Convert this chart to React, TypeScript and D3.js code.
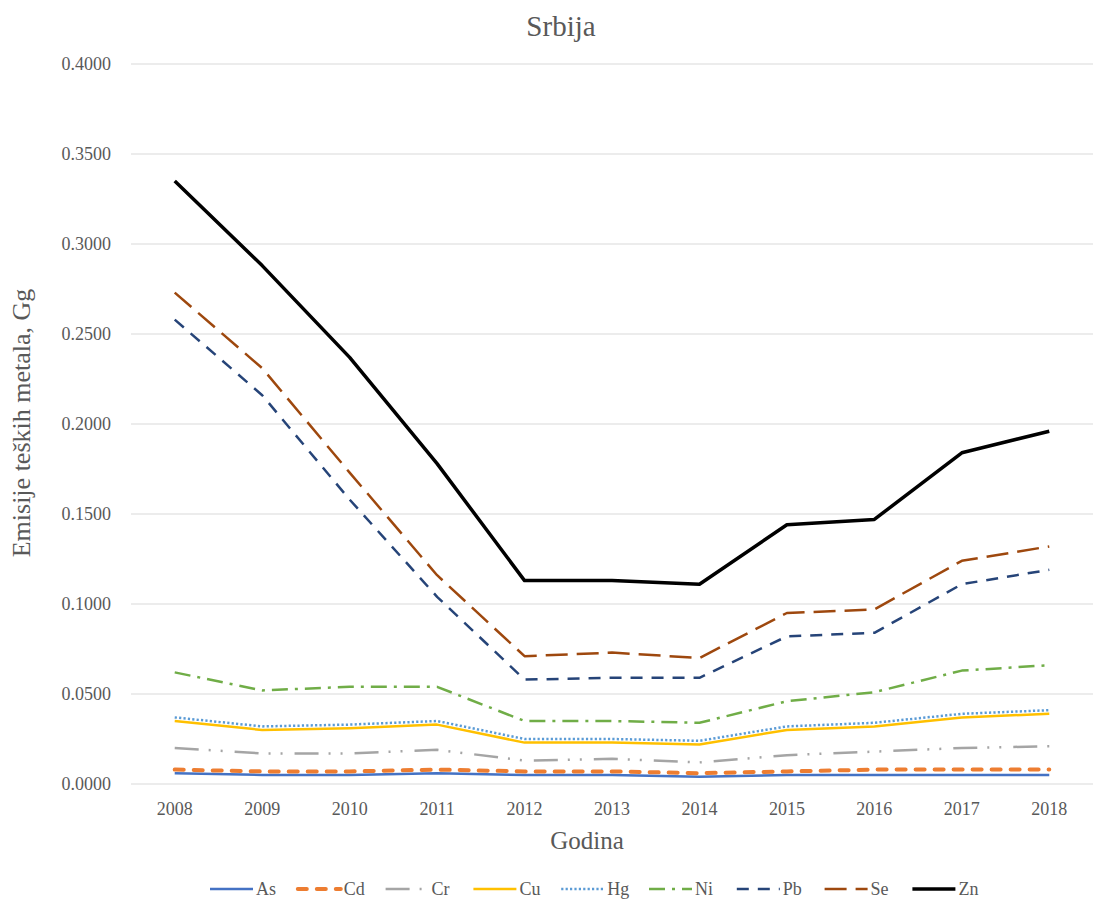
import * as d3 from "d3";

const WIDTH = 1093;
const HEIGHT = 902;
const MARGIN = { top: 64, right: 0, bottom: 118, left: 131 };

const years = ["2008", "2009", "2010", "2011", "2012", "2013", "2014", "2015", "2016", "2017", "2018"];
const yTicks = [0, 0.05, 0.1, 0.15, 0.2, 0.25, 0.3, 0.35, 0.4];

const asVals = [0.006, 0.005, 0.005, 0.006, 0.005, 0.005, 0.004, 0.005, 0.005, 0.005, 0.005];
const cdVals = [0.008, 0.007, 0.007, 0.008, 0.007, 0.007, 0.006, 0.007, 0.008, 0.008, 0.008];
const crVals = [0.02, 0.017, 0.017, 0.019, 0.013, 0.014, 0.012, 0.016, 0.018, 0.02, 0.021];
const cuVals = [0.035, 0.03, 0.031, 0.033, 0.023, 0.023, 0.022, 0.03, 0.032, 0.037, 0.039];
const hgVals = [0.037, 0.032, 0.033, 0.035, 0.025, 0.025, 0.024, 0.032, 0.034, 0.039, 0.041];
const niVals = [0.062, 0.052, 0.054, 0.054, 0.035, 0.035, 0.034, 0.046, 0.051, 0.063, 0.066];
const pbVals = [0.258, 0.216, 0.158, 0.104, 0.058, 0.059, 0.059, 0.082, 0.084, 0.111, 0.119];
const seVals = [0.273, 0.231, 0.173, 0.116, 0.071, 0.073, 0.07, 0.095, 0.097, 0.124, 0.132];
const znVals = [0.335, 0.288, 0.237, 0.178, 0.113, 0.113, 0.111, 0.144, 0.147, 0.184, 0.196];

const series = [
  { name: "As", values: asVals, color: "#4472C4", width: 2.5, dash: "", cap: "butt" },
  { name: "Cd", values: cdVals, color: "#ED7D31", width: 4, dash: "9 10", cap: "round" },
  { name: "Cr", values: crVals, color: "#A5A5A5", width: 2.5, dash: "24 10 2 10 2 12", cap: "butt" },
  { name: "Cu", values: cuVals, color: "#FFC000", width: 2.5, dash: "", cap: "butt" },
  { name: "Hg", values: hgVals, color: "#5B9BD5", width: 2.5, dash: "2.2 2.2", cap: "butt" },
  { name: "Ni", values: niVals, color: "#70AD47", width: 2.5, dash: "16 7 3 7", cap: "butt" },
  { name: "Pb", values: pbVals, color: "#264478", width: 2.5, dash: "12 9", cap: "butt" },
  { name: "Se", values: seVals, color: "#9E480E", width: 2.5, dash: "22 9", cap: "butt" },
  { name: "Zn", values: znVals, color: "#000000", width: 3.5, dash: "", cap: "butt" },
];

const FONT = "'Liberation Serif', 'Times New Roman', serif";
const TEXT = "#595959";

export default function App() {
  const innerW = WIDTH - MARGIN.left - MARGIN.right;
  const innerH = HEIGHT - MARGIN.top - MARGIN.bottom;

  const x = d3.scalePoint<string>().domain(years).range([0, innerW]).padding(0.5);
  const y = d3.scaleLinear().domain([0, 0.4]).range([innerH, 0]);

  const line = (vals: number[]) =>
    d3
      .line<number>()
      .x((_, i) => x(years[i]) ?? 0)
      .y((d) => y(d))(vals) ?? "";

  // legend: evenly spaced items, line then label
  const legendStart = 210;
  const legendPitch = 87.8;
  const legendY = 889;

  return (
    <svg
      width={WIDTH}
      height={HEIGHT}
      style={{ position: "absolute", left: 0, top: 0, background: "#fff" }}
      fontFamily={FONT}
    >
      <text x={561} y={36} textAnchor="middle" fontSize={29} fill={TEXT}>
        Srbija
      </text>

      <g transform={`translate(${MARGIN.left},${MARGIN.top})`}>
        {yTicks.map((t) => (
          <g key={t}>
            <line x1={0} x2={innerW} y1={y(t)} y2={y(t)} stroke="#d9d9d9" strokeWidth={1.2} />
            <text x={-20} y={y(t)} dy="0.35em" textAnchor="end" fontSize={18} fill={TEXT}>
              {d3.format(".4f")(t)}
            </text>
          </g>
        ))}
        {years.map((yr) => (
          <text key={yr} x={x(yr)} y={innerH + 31} textAnchor="middle" fontSize={18} fill={TEXT}>
            {yr}
          </text>
        ))}
        {series.map((s) => (
          <path
            key={s.name}
            d={line(s.values)}
            fill="none"
            stroke={s.color}
            strokeWidth={s.width}
            strokeDasharray={s.dash || undefined}
            strokeLinecap={s.cap as any}
            strokeLinejoin="round"
          />
        ))}
      </g>

      <text
        transform={`translate(30,423) rotate(-90)`}
        textAnchor="middle"
        fontSize={26}
        fill={TEXT}
      >
        Emisije teških metala, Gg
      </text>
      <text x={587} y={849} textAnchor="middle" fontSize={25} fill={TEXT}>
        Godina
      </text>

      {series.map((s, i) => {
        const lx = legendStart + i * legendPitch;
        return (
          <g key={s.name}>
            <line
              x1={lx}
              x2={lx + 43}
              y1={legendY}
              y2={legendY}
              stroke={s.color}
              strokeWidth={s.width}
              strokeDasharray={s.dash || undefined}
              strokeLinecap={s.cap as any}
            />
            <text x={lx + 46} y={legendY + 6} fontSize={18} fill={TEXT}>
              {s.name}
            </text>
          </g>
        );
      })}
    </svg>
  );
}
